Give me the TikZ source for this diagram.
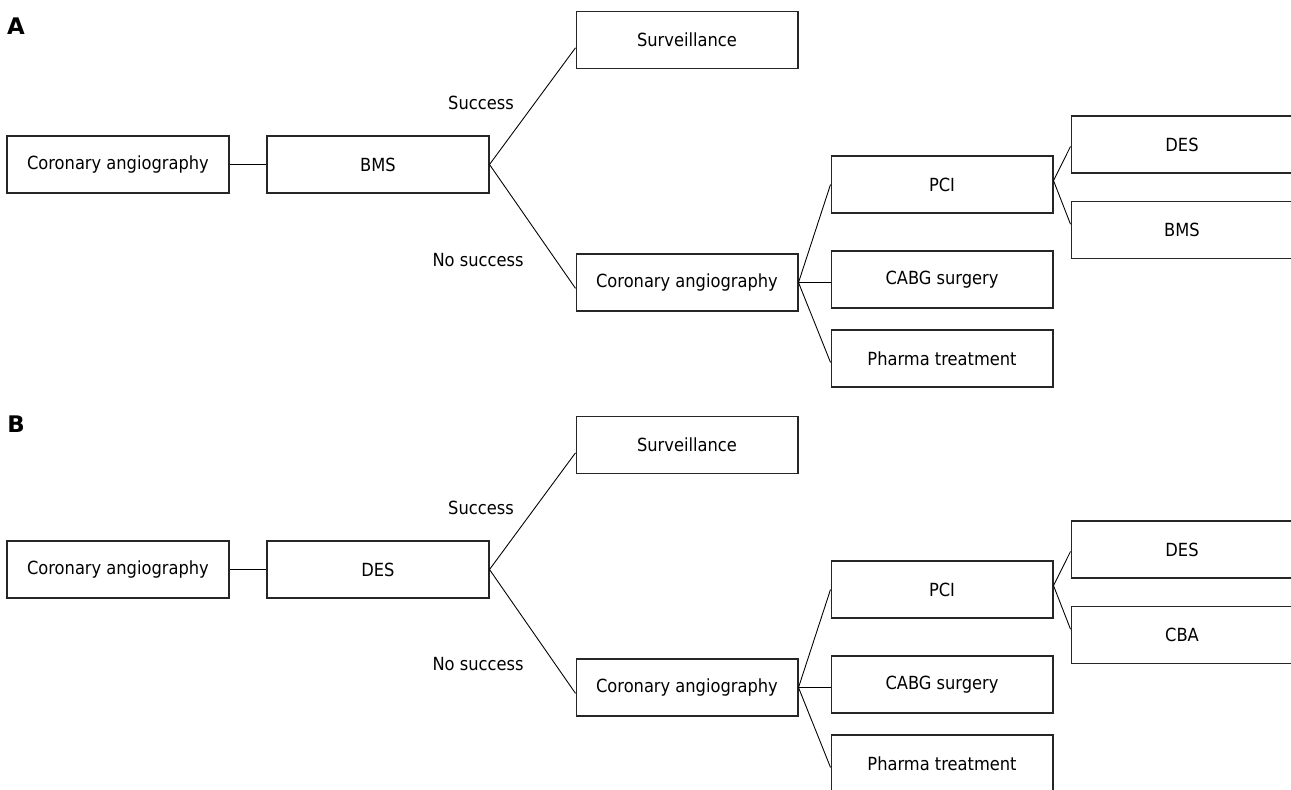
\documentclass[tikz,border=0pt]{standalone}
\usepackage{fontspec}
\setmainfont{DejaVu Sans Condensed}
\newfontfamily\panelfont{DejaVu Sans}

\tikzset{
  box/.style={draw=black!85, line width=0.6pt, minimum width=4.44cm,
    minimum height=1.14cm, inner sep=0pt, font=\fontsize{10.3}{12}\selectfont},
  lbl/.style={font=\fontsize{10.3}{12}\selectfont},
  panel/.style={font=\panelfont\bfseries\fontsize{13}{15}\selectfont},
  link/.style={line width=0.5pt}
}

\begin{document}
\begin{tikzpicture}[x=0.02cm,y=-0.02cm]
  \useasboundingbox (0,0) rectangle (1291,789);

  % panel A
  \node[panel] (labA) at (16,26) {A};
  \node[box] (caA) at (118,164.5) {Coronary angiography};
  \node[box] (stentA) at (378,164.5) {BMS};
  \node[box] (survA) at (687,40) {Surveillance};
  \node[box] (repA) at (687,282.5) {Coronary angiography};
  \node[box] (pciA) at (942,184.5) {PCI};
  \node[box] (cabgA) at (942,279.5) {CABG surgery};
  \node[box] (pharmaA) at (942,358.5) {Pharma treatment};
  \node[box] (desA) at (1182,144.5) {DES};
  \node[box] (bmsA) at (1182,230) {BMS};
  \node[lbl] (succA) at (481,103) {Success};
  \node[lbl] (nosuccA) at (478,260) {No success};

  \draw[link] (caA.east) -- (stentA.west);
  \draw[link] (stentA.east) -- (survA.184);
  \draw[link] (stentA.east) -- (repA.183);
  \draw[link] (repA.east) -- (pciA.west);
  \draw[link] (repA.east) -- (cabgA.west |- repA.east);
  \draw[link] (repA.east) -- (pharmaA.182);
  \draw[link] (pciA.2) -- (desA.181);
  \draw[link] (pciA.2) -- (bmsA.177);

  % panel B
  \node[panel] (labB) at (16,424.5) {B};
  \node[box] (caB) at (118,569.5) {Coronary angiography};
  \node[box] (stentB) at (378,569.5) {DES};
  \node[box] (survB) at (687,445) {Surveillance};
  \node[box] (repB) at (687,687.5) {Coronary angiography};
  \node[box] (pciB) at (942,589.5) {PCI};
  \node[box] (cabgB) at (942,684.5) {CABG surgery};
  \node[box] (pharmaB) at (942,763.5) {Pharma treatment};
  \node[box] (desB) at (1182,549.5) {DES};
  \node[box] (cbaB) at (1182,635) {CBA};
  \node[lbl] (succB) at (481,508) {Success};
  \node[lbl] (nosuccB) at (478,664) {No success};

  \draw[link] (caB.east) -- (stentB.west);
  \draw[link] (stentB.east) -- (survB.184);
  \draw[link] (stentB.east) -- (repB.183);
  \draw[link] (repB.east) -- (pciB.west);
  \draw[link] (repB.east) -- (cabgB.west |- repB.east);
  \draw[link] (repB.east) -- (pharmaB.182);
  \draw[link] (pciB.2) -- (desB.181);
  \draw[link] (pciB.2) -- (cbaB.177);
\end{tikzpicture}
\end{document}
